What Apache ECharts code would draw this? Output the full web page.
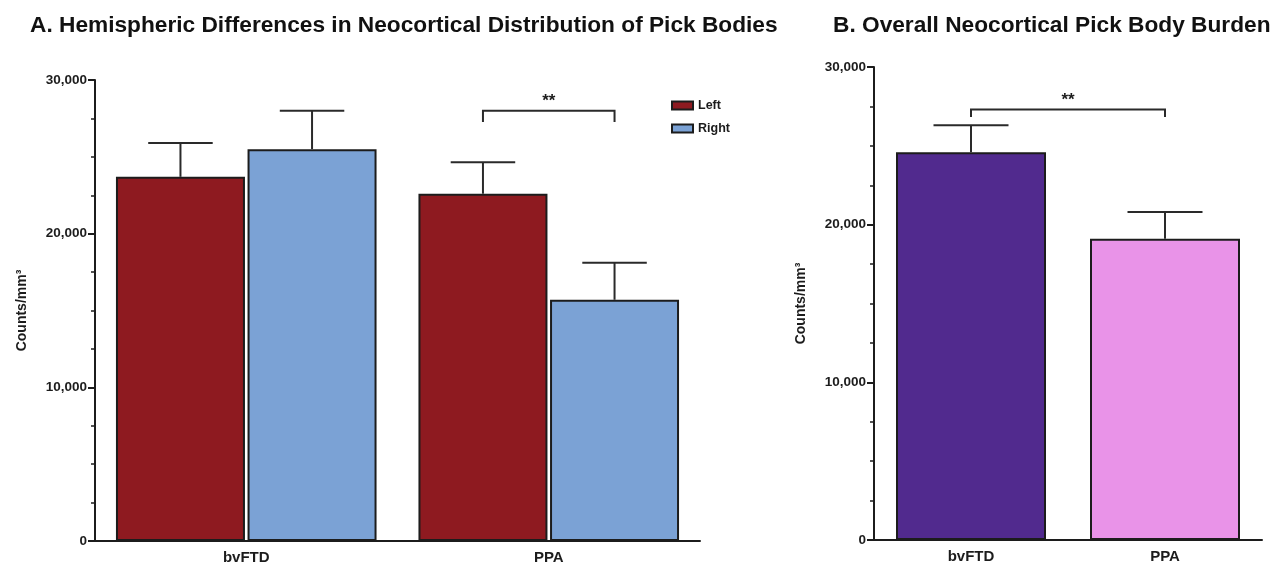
<!DOCTYPE html>
<html>
<head>
<meta charset="utf-8">
<script src="https://cdn.jsdelivr.net/npm/echarts@6/dist/echarts.min.js"></script>
<style>
  html, body { margin: 0; padding: 0; background: #fff; }
  #chart { width: 1270px; height: 571px; }
</style>
</head>
<body>
<div id="chart"></div>
<script>
// panel A: hemispheric values
const groupsA = ["bvFTD", "PPA"];
const leftMean = [23700, 22600];
const leftUpper = [25900, 24650];
const rightMean = [25500, 15700];
const rightUpper = [28000, 18100];
// panel B: overall burden
const groupsB = ["bvFTD", "PPA"];
const overallMean = [24600, 19100];
const overallUpper = [26300, 20800];
// significance brackets: [category, bracket level, leg end]
const sigA = [[1, 28000, 27270]];
const sigB = [[0, 27300, 26830]];
const yTicks = [0, 10000, 20000, 30000];

const font = "Liberation Sans, Arial, sans-serif";
const ink = "#1c1c1c";
const barWA = 129;
const barWB = 150;
const offA = (barWA * 1.02) / 2;

const chart = echarts.init(document.getElementById("chart"));

const yAxisBase = (gridIndex) => ({
  type: "value",
  gridIndex,
  min: yTicks[0],
  max: yTicks[yTicks.length - 1],
  interval: 10000,
  name: "Counts/mm³",
  nameLocation: "middle",
  nameGap: 66,
  nameTextStyle: { fontFamily: font, fontWeight: "bold", fontSize: 14, color: ink },
  axisLine: { show: true, lineStyle: { color: ink, width: 2 } },
  axisTick: { show: true, length: 7, lineStyle: { color: ink, width: 2 } },
  minorTick: { show: true, splitNumber: 4, length: 4, lineStyle: { color: ink, width: 1.5 } },
  splitLine: { show: false },
  axisLabel: {
    fontFamily: font, fontWeight: "bold", fontSize: 13.5, color: ink, margin: 8,
    formatter: (v) => v.toLocaleString("en-US"),
  },
});

const xAxisBase = (gridIndex, data) => ({
  type: "category",
  gridIndex,
  data,
  axisLine: { lineStyle: { color: ink, width: 2 } },
  axisTick: { alignWithLabel: true, length: 6, lineStyle: { color: ink, width: 2 } },
  axisLabel: { fontFamily: font, fontWeight: "bold", fontSize: 15, color: ink, margin: 9 },
});

const errRender = (offset, cap) => (params, api) => {
  const base = api.coord([api.value(0), api.value(1)]);
  const top = api.coord([api.value(0), api.value(2)]);
  const x = base[0] + offset;
  const st = { stroke: "#2a2a2a", lineWidth: 2 };
  return {
    type: "group",
    children: [
      { type: "line", shape: { x1: x, y1: base[1], x2: x, y2: top[1] }, style: st },
      { type: "line", shape: { x1: x - cap / 2, y1: top[1], x2: x + cap / 2, y2: top[1] }, style: st },
    ],
  };
};

const bracketRender = (x0off, x1off, span) => (params, api) => {
  const lvl = api.coord([api.value(0), api.value(1)]);
  const leg = api.coord([api.value(0), api.value(2)]);
  const xa = lvl[0] + x0off;
  const xb = lvl[0] + x1off + (span ? api.size([1, 0])[0] : 0);
  const st = { stroke: "#2a2a2a", lineWidth: 2, fill: null };
  return {
    type: "group",
    children: [
      {
        type: "polyline",
        shape: { points: [[xa, leg[1]], [xa, lvl[1]], [xb, lvl[1]], [xb, leg[1]]] },
        style: st,
      },
      {
        type: "text",
        style: {
          text: "**", x: (xa + xb) / 2, y: lvl[1] - 1,
          align: "center", verticalAlign: "bottom",
          font: "bold 17px " + font, fill: ink,
        },
      },
    ],
  };
};

chart.setOption({
  backgroundColor: "#fff",
  animation: false,
  title: [
    {
      text: "A. Hemispheric Differences in Neocortical Distribution of Pick Bodies",
      left: 25, top: 9,
      textStyle: { fontFamily: font, fontWeight: "bold", fontSize: 22.7, color: "#111" },
    },
    {
      text: "B. Overall Neocortical Pick Body Burden",
      left: 828, top: 9,
      textStyle: { fontFamily: font, fontWeight: "bold", fontSize: 22.7, color: "#111" },
    },
  ],
  legend: {
    data: ["Left", "Right"],
    orient: "vertical",
    left: 666, top: 94,
    icon: "rect",
    itemWidth: 21, itemHeight: 8, itemGap: 10,
    textStyle: { fontFamily: font, fontWeight: "bold", fontSize: 12.5, color: ink },
  },
  grid: [
    { left: 95, right: 570, top: 80, bottom: 30 },
    { left: 874, right: 8, top: 67, bottom: 31 },
  ],
  xAxis: [xAxisBase(0, groupsA), xAxisBase(1, groupsB)],
  yAxis: [yAxisBase(0), yAxisBase(1)],
  series: [
    {
      name: "Left", type: "bar", xAxisIndex: 0, yAxisIndex: 0,
      data: leftMean, barWidth: barWA, barGap: "2%",
      itemStyle: { color: "#8e1a20", borderColor: ink, borderWidth: 2 },
    },
    {
      name: "Right", type: "bar", xAxisIndex: 0, yAxisIndex: 0,
      data: rightMean, barWidth: barWA, barGap: "2%",
      itemStyle: { color: "#7ba2d5", borderColor: ink, borderWidth: 2 },
    },
    {
      name: "Left err", type: "custom", xAxisIndex: 0, yAxisIndex: 0, z: 1,
      renderItem: errRender(-offA, barWA / 2),
      data: groupsA.map((g, i) => [i, leftMean[i], leftUpper[i]]),
    },
    {
      name: "Right err", type: "custom", xAxisIndex: 0, yAxisIndex: 0, z: 1,
      renderItem: errRender(offA, barWA / 2),
      data: groupsA.map((g, i) => [i, rightMean[i], rightUpper[i]]),
    },
    {
      name: "sigA", type: "custom", xAxisIndex: 0, yAxisIndex: 0,
      renderItem: bracketRender(-offA, offA, false),
      data: sigA,
    },
    {
      name: "Overall", type: "bar", xAxisIndex: 1, yAxisIndex: 1,
      data: overallMean.map((v, i) => ({
        value: v,
        itemStyle: { color: i === 0 ? "#512a8e" : "#e993e8" },
      })),
      barWidth: barWB,
      itemStyle: { borderColor: ink, borderWidth: 2 },
    },
    {
      name: "Overall err", type: "custom", xAxisIndex: 1, yAxisIndex: 1, z: 1,
      renderItem: errRender(0, barWB / 2),
      data: groupsB.map((g, i) => [i, overallMean[i], overallUpper[i]]),
    },
    {
      name: "sigB", type: "custom", xAxisIndex: 1, yAxisIndex: 1,
      renderItem: bracketRender(0, 0, true),
      data: sigB,
    },
  ],
});
</script>
</body>
</html>
